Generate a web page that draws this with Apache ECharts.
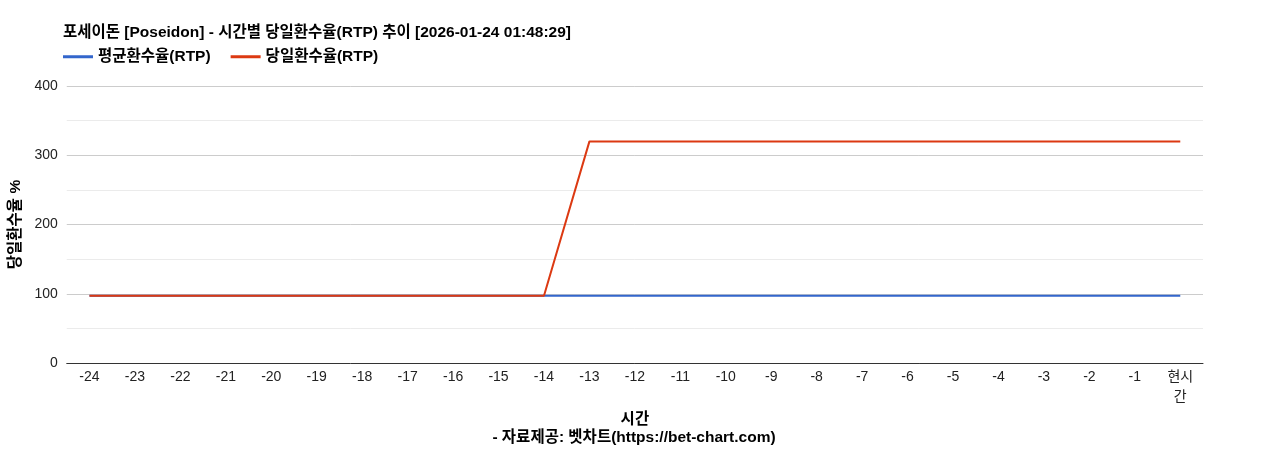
<!DOCTYPE html>
<html>
<head>
<meta charset="utf-8">
<script src="https://cdn.jsdelivr.net/npm/echarts@6/dist/echarts.min.js"></script>
<style>
	html, body { margin: 0; padding: 0; background: #fff; }
	#chart { width: 1268px; height: 450px; }
</style>
</head>
<body>
<div id="chart"></div>
<script>
const hours = ['-24', '-23', '-22', '-21', '-20', '-19', '-18', '-17', '-16', '-15', '-14', '-13', '-12',
	'-11', '-10', '-9', '-8', '-7', '-6', '-5', '-4', '-3', '-2', '-1', '현시간']
const avgRtp = [97, 97, 97, 97, 97, 97, 97, 97, 97, 97, 97, 97, 97,
	97, 97, 97, 97, 97, 97, 97, 97, 97, 97, 97, 97]
const dayRtp = [97, 97, 97, 97, 97, 97, 97, 97, 97, 97, 97, 320, 320,
	320, 320, 320, 320, 320, 320, 320, 320, 320, 320, 320, 320]
const yTicks = [0, 100, 200, 300, 400]

const font = 'Arial, "Liberation Sans", "Noto Sans CJK KR", sans-serif'
// 굵은 글씨는 원본보다 좁게 나와서 조금 키움
const boldText = { fontSize: 15.5, fontWeight: 'bold', color: '#000', fontFamily: font }

let chart = echarts.init(document.getElementById('chart'))
let option = {
	animation: false,
	textStyle: { fontFamily: font },
	title: [
		{
			left: 63,
			top: 25,
			padding: 0,
			text: '포세이돈 [Poseidon] - 시간별 당일환수율(RTP) 추이 [2026-01-24 01:48:29]',
			textStyle: boldText,
		},
		{
			left: 'center',
			top: 430,
			padding: 0,
			text: '- 자료제공: 벳차트(https://bet-chart.com)',
			textStyle: boldText,
		},
	],
	legend: {
		left: 63,
		top: 49,
		padding: 0,
		itemWidth: 30,
		itemHeight: 3,
		itemGap: 20,
		icon: 'rect',
		data: ['평균환수율(RTP)', '당일환수율(RTP)'],
		textStyle: boldText,
	},
	grid: { left: 63, right: 65, top: 86, bottom: 87, containLabel: false },
	xAxis: {
		type: 'category',
		data: hours,
		boundaryGap: true,
		name: '시간',
		nameLocation: 'middle',
		nameGap: 42,
		nameTextStyle: boldText,
		axisLine: { lineStyle: { color: '#333', width: 1 } },
		axisTick: { show: false },
		axisLabel: {
			interval: 0,
			fontSize: 14,
			color: '#222',
			margin: 4,
			width: 32,
			overflow: 'break',
			lineHeight: 20,
		},
	},
	yAxis: {
		type: 'value',
		min: 0,
		max: yTicks[yTicks.length - 1],
		interval: 100,
		name: '당일환수율 %',
		nameLocation: 'middle',
		nameGap: 40,
		nameTextStyle: boldText,
		axisLine: { show: false },
		axisTick: { show: false },
		axisLabel: { fontSize: 14, color: '#222', margin: 9 },
		splitLine: { show: true, lineStyle: { color: '#cccccc', width: 1 } },
		minorTick: { show: false, splitNumber: 2 },
		minorSplitLine: { show: true, lineStyle: { color: '#ebebeb', width: 1 } },
	},
	series: [
		{
			name: '평균환수율(RTP)',
			type: 'line',
			data: avgRtp,
			symbol: 'none',
			color: '#3366cc',
			lineStyle: { width: 2, color: '#3366cc' },
		},
		{
			name: '당일환수율(RTP)',
			type: 'line',
			data: dayRtp,
			symbol: 'none',
			color: '#dc3912',
			lineStyle: { width: 2, color: '#dc3912' },
		},
	],
}
chart.setOption(option)
</script>
</body>
</html>
